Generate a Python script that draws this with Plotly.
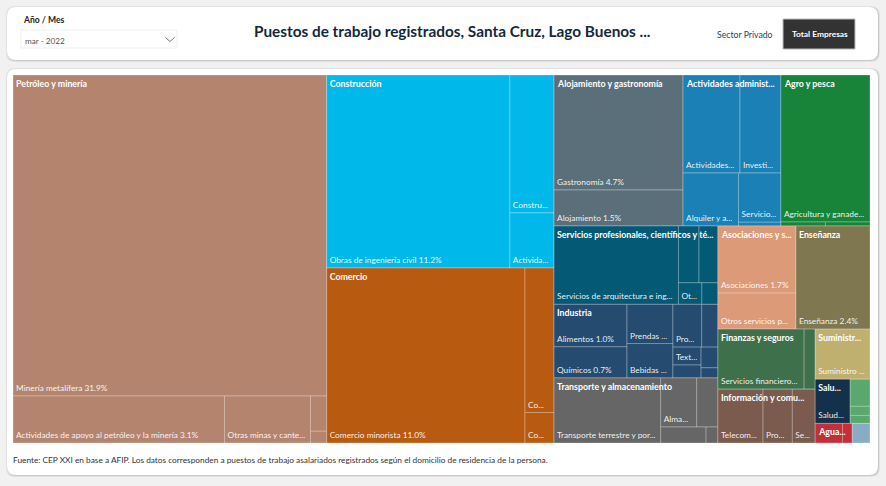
import plotly.graph_objects as go

W, H = 886, 486

# Sector data
sector_names = [
    "Petróleo y minería", "Construcción", "Comercio", "Alojamiento y gastronomía",
    "Actividades administrativas", "Agro y pesca", "Servicios profesionales, científicos y técnicos",
    "Industria", "Transporte y almacenamiento", "Asociaciones y servicios", "Enseñanza",
    "Finanzas y seguros", "Información y comunicaciones", "Suministro", "Salud",
    "Otros sectores", "Agua", "Sin clasificar",
]
sector_labels = [
    "Petróleo y minería", "Construcción", "Comercio", "Alojamiento y gastronomía",
    "Actividades administ...", "Agro y pesca", "Servicios profesionales, científicos y té...",
    "Industria", "Transporte y almacenamiento", "Asociaciones y s...", "Enseñanza",
    "Finanzas y seguros", "Información y comu...", "Suministr...", "Salu...",
    "", "Agua...", "",
]
sector_colors = [
    "#B5846E", "#00B8EA", "#B85A10", "#5B6F7B",
    "#1A80B5", "#17843A", "#045A75",
    "#254C70", "#666666", "#DC9A79", "#7F774F",
    "#3F704C", "#7A5B4D", "#BFB06F", "#13314A",
    "#5AA86E", "#C4303A", "#87ACC4",
]

# Leaf data: sector index, shown text, share of jobs (%)
leaf_sector = [
    0, 0, 0, 0, 0,
    1, 1, 1,
    2, 2, 2,
    3, 3,
    4, 4, 4, 4, 4,
    5, 5, 5,
    6, 6, 6, 6, 6,
    7, 7, 7, 7, 7, 7, 7, 7, 7, 7,
    8, 8, 8, 8, 8,
    9, 9,
    10,
    11, 11,
    12, 12, 12,
    13,
    14,
    15, 15, 15,
    16, 16,
    17,
]
leaf_text = [
    "Minería metalífera 31.9%", "Actividades de apoyo al petróleo y la minería 3.1%", "Otras minas y cante...", "", "",
    "Obras de ingeniería civil 11.2%", "Constru...", "Activida...",
    "Comercio minorista 11.0%", "Co...", "Co...",
    "Gastronomía 4.7%", "Alojamiento 1.5%",
    "Actividades...", "Investi...", "Alquiler y a...", "Servicio...", "",
    "Agricultura y ganade...", "", "",
    "Servicios de arquitectura e ing...", "", "", "Ot...", "",
    "Alimentos 1.0%", "Químicos 0.7%", "Prendas ...", "Bebidas ...", "Pro...", "", "Text...", "", "", "",
    "Transporte terrestre y por...", "Alma...", "", "", "",
    "Asociaciones 1.7%", "Otros servicios p...",
    "Enseñanza 2.4%",
    "Servicios financiero...", "",
    "Telecom...", "Pro...", "Se...",
    "Suministro ...",
    "Salud...",
    "", "", "",
    "", "",
    "",
]
leaf_values = [
    31.9, 3.15, 1.28, 0.18, 0.06,
    11.2, 1.93, 0.77,
    11.0, 1.33, 0.28,
    4.7, 1.47,
    1.77, 1.27, 0.93, 0.66, 0.05,
    4.15, 0.056, 0.056,
    3.09, 0.37, 0.34, 0.16, 0.11,
    0.98, 0.72, 0.57, 0.50, 0.39, 0.22, 0.16, 0.115, 0.11, 0.054,
    2.2, 0.56, 0.33, 0.23, 0.06,
    1.66, 0.89,
    2.42,
    1.64, 0.21,
    0.77, 0.50, 0.39,
    0.87,
    0.49,
    0.17, 0.05, 0.057,
    0.17, 0.06,
    0.11,
]

title_text = "Puestos de trabajo registrados, Santa Cruz, Lago Buenos ..."
source_text = ("Fuente: CEP XXI en base a AFIP. Los datos corresponden a puestos de trabajo "
               "asalariados registrados según el domicilio de residencia de la persona.")

FONT = "Lato"
RATIO = 1.618
DOMAIN = dict(x=[13 / W, 870 / W], y=[1 - 443 / H, 1 - 75 / H])
sector_sums = [sum(v for s, v in zip(leaf_sector, leaf_values) if s == i) for i in range(len(sector_names))]


def px(x):
    return x / W


def py(y):
    return 1 - y / H


def rounded(x0, y0, x1, y1, r):
    return (
        f"M {px(x0 + r)} {py(y0)} L {px(x1 - r)} {py(y0)} "
        f"Q {px(x1)} {py(y0)} {px(x1)} {py(y0 + r)} L {px(x1)} {py(y1 - r)} "
        f"Q {px(x1)} {py(y1)} {px(x1 - r)} {py(y1)} L {px(x0 + r)} {py(y1)} "
        f"Q {px(x0)} {py(y1)} {px(x0)} {py(y1 - r)} L {px(x0)} {py(y0 + r)} "
        f"Q {px(x0)} {py(y0)} {px(x0 + r)} {py(y0)} Z"
    )


def card(x0, y0, x1, y1):
    # soft shadow then white card
    out = []
    for grow, col in [(2, "#e2e2e2"), (1, "#c9c9c9")]:
        out.append(dict(type="path", xref="paper", yref="paper", layer="below",
                        path=rounded(x0 - grow + 1, y0 - grow + 1, x1 + grow, y1 + grow, 9),
                        fillcolor=col, line=dict(width=0)))
    out.append(dict(type="path", xref="paper", yref="paper", layer="below",
                    path=rounded(x0, y0, x1, y1, 9), fillcolor="white", line=dict(width=0)))
    return out


def box(x0, y0, x1, y1, fill, line):
    return dict(type="rect", xref="paper", yref="paper", layer="below",
                x0=px(x0), x1=px(x1), y0=py(y1), y1=py(y0),
                fillcolor=fill, line=dict(color=line, width=1))


def label(x, y, text, size, color, anchor="left", family=FONT):
    return dict(x=px(x), y=py(y), xref="paper", yref="paper", text=text, showarrow=False,
                xanchor=anchor, yanchor="middle", font=dict(size=size, color=color, family=family))


fig = go.Figure()

# Leaves with their sector parents
ids = [f"s{i}" for i in range(len(sector_names))]
parents = [""] * len(sector_names)
labels = list(sector_names)
texts = [""] * len(sector_names)
values = [0] * len(sector_names)
colors = list(sector_colors)
for n, (s, t, v) in enumerate(zip(leaf_sector, leaf_text, leaf_values)):
    ids.append(f"l{n}")
    parents.append(f"s{s}")
    labels.append(t or f"{sector_names[s]} {n}")
    texts.append(t)
    values.append(v)
    colors.append(sector_colors[s])

fig.add_trace(go.Treemap(
    ids=ids, labels=labels, parents=parents, values=values, text=texts,
    branchvalues="remainder", textinfo="text", textposition="bottom left",
    textfont=dict(family=FONT, size=8.3, color="rgba(255,255,255,0.92)"),
    marker=dict(colors=colors, line=dict(color="rgba(255,255,255,0.28)", width=1),
                pad=dict(t=0, l=0, r=0, b=0)),
    tiling=dict(packing="squarify", squarifyratio=RATIO, pad=0),
    pathbar=dict(visible=False),
    domain=DOMAIN, hoverinfo="skip",
))

# Sector headers sit over the same tiling, so a second transparent treemap holds them
fig.add_trace(go.Treemap(
    ids=ids[:len(sector_names)], labels=sector_names, parents=[""] * len(sector_names),
    values=sector_sums, text=sector_labels,
    branchvalues="remainder", textinfo="text", textposition="top left",
    textfont=dict(family=FONT, size=8.8, color="white", weight="bold"),
    marker=dict(colors=["rgba(0,0,0,0)"] * len(sector_names), line=dict(width=0),
                pad=dict(t=0, l=0, r=0, b=0)),
    tiling=dict(packing="squarify", squarifyratio=RATIO, pad=0),
    pathbar=dict(visible=False),
    domain=DOMAIN, hoverinfo="skip",
))

shapes = card(7, 7, 878, 60) + card(7, 69, 878, 475)
shapes.append(box(21, 30, 177, 48, "white", "#efefef"))
shapes.append(dict(type="path", xref="paper", yref="paper",
                   path=f"M {px(165.5)} {py(37.5)} L {px(170)} {py(41.5)} L {px(174.5)} {py(37.5)}",
                   line=dict(color="#777777", width=1)))
shapes.append(box(783, 19, 855, 49, "#333333", "#bdbdbd"))

annotations = [
    label(20.5, 20, "<b>Año / Mes</b>", 8.6, "#222222"),
    label(23, 40.5, "mar - 2022", 8.2, "#555555"),
    label(252, 31, f"<b>{title_text}</b>", 15.35, "#14283c"),
    label(715, 34, "Sector Privado", 8.7, "#2b3f52"),
    label(819.5, 34.5, "<b>Total Empresas</b>", 8.4, "white", anchor="center"),
    label(11, 460, source_text, 8.3, "#333333"),
]

fig.update_layout(
    width=W, height=H, margin=dict(l=0, r=0, t=0, b=0),
    paper_bgcolor="#f1f1f1", showlegend=False,
    shapes=shapes, annotations=annotations,
)

fig.write_html("out.html", config=dict(displayModeBar=False),
               post_script="document.body.style.margin='0';document.body.style.overflow='hidden';")
